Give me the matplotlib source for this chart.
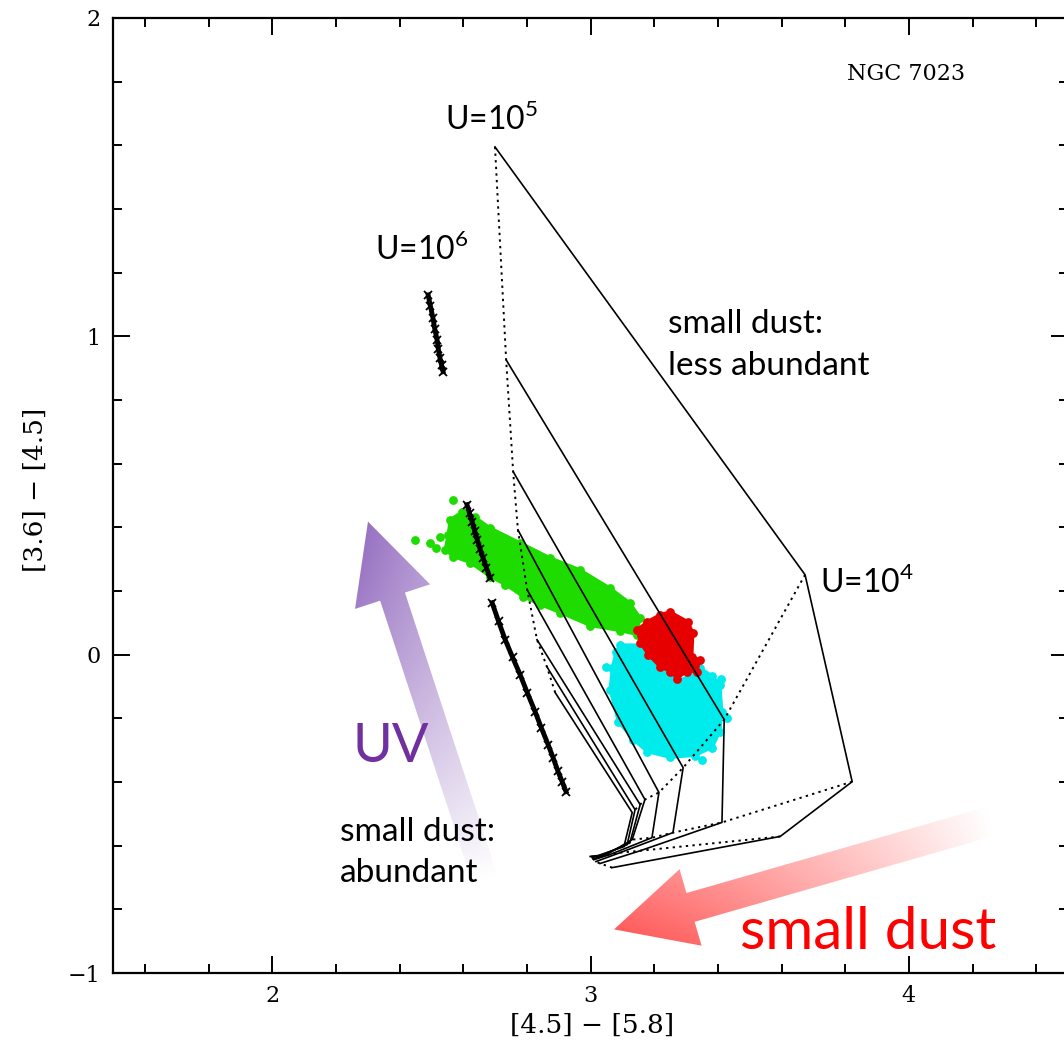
import numpy as np
import matplotlib
matplotlib.use('Agg')
import matplotlib.pyplot as plt
from matplotlib.patches import Polygon
from matplotlib.ticker import MultipleLocator

# model grid: one row per small-dust abundance (solid lines),
# one column per radiation field U = 1e5, 1e4, 1e3, 1e2, 1e1 (dotted lines)
grid_x = [
    [2.700, 3.674, 3.822, 3.596, 3.068],
    [2.735, 3.420, 3.413, 3.156, 3.030],
    [2.757, 3.291, 3.259, 3.093, 3.017],
    [2.772, 3.215, 3.193, 3.061, 3.011],
    [2.801, 3.171, 3.131, 3.046, 3.008],
    [2.832, 3.156, 3.124, 3.036, 3.005],
    [2.863, 3.140, 3.115, 3.030, 3.002],
    [2.889, 3.131, 3.105, 3.024, 2.999],
]
grid_y = [
    [1.595, 0.251, -0.399, -0.571, -0.669],
    [0.926, -0.204, -0.527, -0.616, -0.656],
    [0.575, -0.355, -0.559, -0.622, -0.650],
    [0.392, -0.433, -0.575, -0.628, -0.644],
    [0.204, -0.455, -0.581, -0.631, -0.641],
    [0.047, -0.471, -0.590, -0.631, -0.637],
    [-0.038, -0.487, -0.597, -0.631, -0.634],
    [-0.119, -0.496, -0.603, -0.631, -0.634],
]

# tracks drawn with x markers
track1_x = [2.490, 2.497, 2.505, 2.511, 2.518, 2.522, 2.527, 2.532, 2.537]
track1_y = [1.130, 1.095, 1.058, 1.022, 0.989, 0.960, 0.933, 0.910, 0.889]
track2_x = [2.612, 2.620, 2.628, 2.636, 2.644, 2.653, 2.662, 2.673, 2.684]
track2_y = [0.471, 0.445, 0.418, 0.390, 0.361, 0.333, 0.305, 0.273, 0.242]
track3_x = [2.691, 2.711, 2.732, 2.755, 2.779, 2.802, 2.826, 2.846, 2.867, 2.883,
            2.898, 2.911, 2.923]
track3_y = [0.163, 0.105, 0.047, -0.008, -0.063, -0.121, -0.179, -0.231, -0.283, -0.325,
            -0.367, -0.399, -0.430]

# observed pixel clouds (outline of each region + stray points)
green_x = [2.559, 2.596, 2.637, 2.684, 2.779, 2.873, 2.967, 3.061, 3.124, 3.156,
           3.146, 3.093, 2.999, 2.904, 2.841, 2.788, 2.732, 2.684, 2.622, 2.568,
           2.543, 2.552]
green_y = [0.424, 0.449, 0.433, 0.399, 0.352, 0.305, 0.267, 0.210, 0.163, 0.116,
           0.063, 0.075, 0.091, 0.132, 0.157, 0.182, 0.220, 0.245, 0.289, 0.308,
           0.330, 0.377]
green_dots_x = [2.449, 2.496, 2.527, 2.568, 2.515]
green_dots_y = [0.361, 0.352, 0.370, 0.487, 0.336]

red_x = [3.218, 3.250, 3.306, 3.322, 3.319, 3.344, 3.335, 3.303, 3.272, 3.250,
         3.218, 3.181, 3.156, 3.146, 3.178]
red_y = [0.126, 0.135, 0.104, 0.069, -0.006, -0.016, -0.053, -0.053, -0.075, -0.053,
         -0.038, 0.000, 0.038, 0.078, 0.104]

cyan_x = [3.093, 3.156, 3.187, 3.225, 3.275, 3.319, 3.344, 3.382, 3.407, 3.413,
          3.407, 3.382, 3.328, 3.250, 3.178, 3.134, 3.087, 3.061, 3.068, 3.080]
cyan_y = [0.031, 0.031, -0.009, -0.047, -0.082, -0.063, -0.041, -0.066, -0.094, -0.179,
          -0.242, -0.292, -0.317, -0.323, -0.305, -0.267, -0.210, -0.110, -0.041, 0.009]
cyan_dots_x = [3.350, 3.410, 3.430, 3.050]
cyan_dots_y = [-0.330, -0.075, -0.200, -0.040]

GREEN = '#1EDC00'
RED = '#E60000'
CYAN = '#00EBEB'


def cloud(ax, xs, ys, color, dots_x=(), dots_y=()):
    ax.add_patch(Polygon(np.column_stack([xs, ys]), closed=True, facecolor=color,
                         edgecolor=color, lw=2, zorder=2))
    ax.scatter(xs, ys, s=40, color=color, lw=0, zorder=2)
    if len(dots_x):
        ax.scatter(dots_x, dots_y, s=40, color=color, lw=0, zorder=2)


def gradient_arrow(ax, tail, tip, shaft_w, head_w, head_l, color, z=1):
    tail = np.asarray(tail, float)
    tip = np.asarray(tip, float)
    d = tip - tail
    L = np.hypot(*d)
    u = d / L
    n = np.array([-u[1], u[0]])
    base = tip - u * head_l
    pts = np.array([tail + n * shaft_w / 2, base + n * shaft_w / 2, base + n * head_w / 2,
                    tip, base - n * head_w / 2, base - n * shaft_w / 2, tail - n * shaft_w / 2])
    poly = Polygon(pts, closed=True, facecolor='none', edgecolor='none')
    ax.add_patch(poly)
    x0, x1 = pts[:, 0].min(), pts[:, 0].max()
    y0, y1 = pts[:, 1].min(), pts[:, 1].max()
    gx, gy = np.meshgrid(np.linspace(x0, x1, 400), np.linspace(y0, y1, 400))
    t = np.clip(((gx - tail[0]) * u[0] + (gy - tail[1]) * u[1]) / L, 0, 1)
    s = np.clip(((gx - tail[0]) * n[0] + (gy - tail[1]) * n[1]) / (head_w / 2), -1, 1)
    f = np.clip(t * (1 + 0.15 * s), 0, 1)[..., None]
    c = np.array(matplotlib.colors.to_rgb(color))
    rgb = (1 - f) * np.ones(3) + f * c
    im = ax.imshow(rgb, extent=(x0, x1, y0, y1), origin='lower', aspect='auto',
                   interpolation='bilinear', zorder=z)
    im.set_clip_path(poly)


plt.rcParams['font.family'] = 'DejaVu Serif'
plt.rcParams['mathtext.fontset'] = 'custom'
plt.rcParams['mathtext.rm'] = 'Lato'

fig = plt.figure(figsize=(10.64, 10.46), dpi=100)
ax = fig.add_axes([113 / 1064, 73 / 1046, 955 / 1064, 955 / 1046])

# arrows behind everything
gradient_arrow(ax, (2.669, -0.706), (2.301, 0.418), 0.082, 0.248, 0.248, '#9872C2')
gradient_arrow(ax, (4.255, -0.524), (3.074, -0.863), 0.094, 0.250, 0.250, '#FF5C5C')

cloud(ax, green_x, green_y, GREEN, green_dots_x, green_dots_y)
cloud(ax, cyan_x, cyan_y, CYAN, cyan_dots_x, cyan_dots_y)
cloud(ax, red_x, red_y, RED)

gx = np.array(grid_x)
gy = np.array(grid_y)
for i in range(gx.shape[0]):
    ax.plot(gx[i], gy[i], color='k', lw=1.2, zorder=3)
for j in range(gx.shape[1]):
    ax.plot(gx[:, j], gy[:, j], color='k', lw=1.4, ls=(0, (1.2, 2.2)), zorder=3)

for tx, ty in [(track1_x, track1_y), (track2_x, track2_y), (track3_x, track3_y)]:
    ax.plot(tx, ty, color='k', lw=3.5, marker='x', ms=6, mew=1.3, zorder=4)

ax.set_xlim(1.5, 4.5)
ax.set_ylim(-1, 2)
ax.set_xticks([2, 3, 4])
ax.set_yticks([-1, 0, 1, 2])
ax.xaxis.set_minor_locator(MultipleLocator(0.2))
ax.yaxis.set_minor_locator(MultipleLocator(0.2))
ax.tick_params(which='both', direction='in', top=True, right=True, width=1.4)
ax.tick_params(which='major', length=12, labelsize=16, pad=9)
ax.tick_params(which='minor', length=6.5)
for sp in ax.spines.values():
    sp.set_linewidth(1.6)

ax.set_xlabel('[4.5] \u2212 [5.8]', fontsize=19)
ax.set_ylabel('[3.6] \u2212 [4.5]', fontsize=19)
ax.xaxis.set_label_coords(0.5016, -0.042)
ax.yaxis.set_label_coords(-0.068, 0.506)

ax.text(3.806, 1.805, 'NGC 7023', fontsize=16, family='DejaVu Serif', zorder=5)

lbl = dict(family='Lato', fontsize=23, va='baseline', zorder=5)
ax.text(2.543, 1.648, 'U=10$^{\\mathregular{5}}$', **lbl)
ax.text(2.323, 1.240, 'U=10$^{\\mathregular{6}}$', **lbl)
ax.text(3.721, 0.195, 'U=10$^{\\mathregular{4}}$', **lbl)
# multi-line labels: y is the baseline of the last line
ax.text(3.244, 0.879, 'small dust:\nless abundant', family='Lato', fontsize=24,
        va='baseline', linespacing=1.5, zorder=5)
ax.text(2.213, -0.713, 'small dust:\nabundant', family='Lato', fontsize=24,
        va='baseline', linespacing=1.45, zorder=5)
ax.text(2.251, -0.336, 'UV', family='Lato', fontsize=39, color='#7030A0',
        va='baseline', zorder=5)
ax.text(3.470, -0.926, 'small dust', family='Lato', fontsize=42, color='#FF0000',
        va='baseline', zorder=5)

fig.savefig('out.png', dpi=100)
